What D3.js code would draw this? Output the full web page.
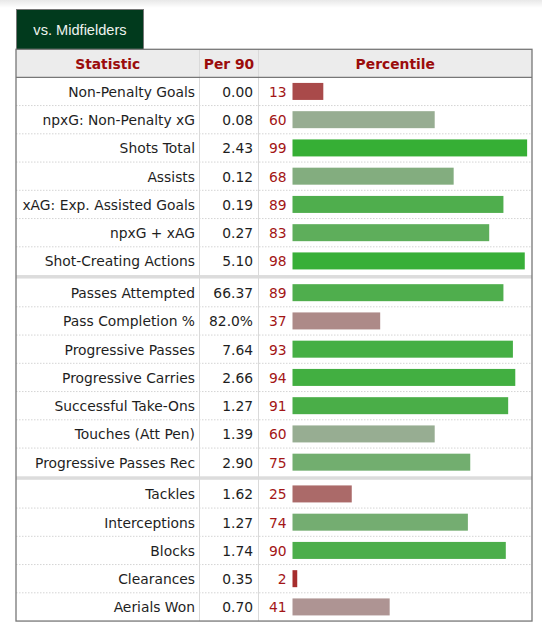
<!DOCTYPE html>
<html>
<head>
<meta charset="utf-8">
<script src="https://cdn.jsdelivr.net/npm/d3@7"></script>
<style>
  body { margin: 0; background: #fff; }
  svg { display: block; }
</style>
</head>
<body>
<div id="chart"></div>
<script>
// ---- data ----
const tabLabel = "vs. Midfielders";
const headers = ["Statistic", "Per 90", "Percentile"];
const statistics = [
  "Non-Penalty Goals", "npxG: Non-Penalty xG", "Shots Total", "Assists",
  "xAG: Exp. Assisted Goals", "npxG + xAG", "Shot-Creating Actions",
  "Passes Attempted", "Pass Completion %", "Progressive Passes",
  "Progressive Carries", "Successful Take-Ons", "Touches (Att Pen)",
  "Progressive Passes Rec",
  "Tackles", "Interceptions", "Blocks", "Clearances", "Aerials Won"
];
const per90 = [
  "0.00", "0.08", "2.43", "0.12", "0.19", "0.27", "5.10",
  "66.37", "82.0%", "7.64", "2.66", "1.27", "1.39", "2.90",
  "1.62", "1.27", "1.74", "0.35", "0.70"
];
const percentiles = [
  13, 60, 99, 68, 89, 83, 98,
  89, 37, 93, 94, 91, 60, 75,
  25, 74, 90, 2, 41
];
const groupSizes = [7, 7, 5];

// ---- layout ----
const W = 542, H = 630;
const left = 16, right = 532;
const col1 = 199.5, col2 = 258.5;
const headTop = 49.3, headBottom = 77.3;
const rowH = 28.25, sepH = 3.5;
const barX = 292.5, barH = 17;
const font = "'DejaVu Sans', Verdana, sans-serif";
const fs = 13.85;

// group index for each row
const groupOf = [];
groupSizes.forEach((n, g) => { for (let k = 0; k < n; k++) groupOf.push(g); });

const rowScale = d3.scaleLinear()
  .domain([0, statistics.length])
  .range([headBottom, headBottom + statistics.length * rowH]);
const rowTop = i => rowScale(i) + groupOf[i] * sepH;
const tableBottom = rowTop(statistics.length - 1) + rowH;

const x = d3.scaleLinear().domain([0, 100]).range([0, 237]);
const color = d3.scaleLinear()
  .domain([0, 50, 100])
  .range(["rgb(166,40,40)", "rgb(176,172,170)", "rgb(51,175,51)"]);

const svg = d3.select("#chart").append("svg")
  .attr("width", W).attr("height", H);

// top shadow
const defs = svg.append("defs");
const grad = defs.append("linearGradient").attr("id", "shade")
  .attr("x1", 0).attr("y1", 0).attr("x2", 0).attr("y2", 1);
grad.append("stop").attr("offset", 0).attr("stop-color", "#000").attr("stop-opacity", 0.09);
grad.append("stop").attr("offset", 1).attr("stop-color", "#000").attr("stop-opacity", 0);
svg.append("rect").attr("x", 0).attr("y", 0).attr("width", W).attr("height", 8)
  .attr("fill", "url(#shade)");

// tab
svg.append("rect")
  .attr("x", 16.5).attr("y", 9.5).attr("width", 127).attr("height", 40)
  .attr("fill", "#013a1d").attr("stroke", "#777").attr("stroke-width", 1);
svg.append("text")
  .attr("x", 80).attr("y", 29.5)
  .attr("text-anchor", "middle").attr("dominant-baseline", "central")
  .attr("font-family", "'Liberation Sans', Arial, sans-serif")
  .attr("font-size", 14.6).attr("fill", "#eef2ee")
  .text(tabLabel);

// header
svg.append("rect")
  .attr("x", left).attr("y", headTop).attr("width", right - left).attr("height", headBottom - headTop)
  .attr("fill", "#ececec");
const headCenters = [(left + col1) / 2, (col1 + col2) / 2, (col2 + right) / 2];
svg.selectAll("text.head").data(headers).join("text")
  .attr("class", "head")
  .attr("x", (d, i) => headCenters[i])
  .attr("y", (headTop + headBottom) / 2 + 1)
  .attr("text-anchor", "middle").attr("dominant-baseline", "central")
  .attr("font-family", font).attr("font-weight", "bold").attr("font-size", fs)
  .attr("fill", "#9b0c0c")
  .text(d => d);

// group separators
const sepY = [];
let acc = 0;
groupSizes.slice(0, -1).forEach(n => { acc += n; sepY.push(rowTop(acc) - sepH); });
svg.selectAll("rect.sep").data(sepY).join("rect")
  .attr("class", "sep")
  .attr("x", left).attr("y", d => d).attr("width", right - left).attr("height", sepH)
  .attr("fill", "#dcdcdc");

// dotted row lines (not at the bottom of a group)
const dotRows = d3.range(statistics.length - 1).filter(i => groupOf[i] === groupOf[i + 1]);
svg.selectAll("line.dot").data(dotRows).join("line")
  .attr("class", "dot")
  .attr("x1", left).attr("x2", right)
  .attr("y1", i => rowTop(i) + rowH).attr("y2", i => rowTop(i) + rowH)
  .attr("stroke", "#d4d4d4").attr("stroke-width", 1).attr("stroke-dasharray", "1.5,1.5");

// column lines
svg.selectAll("line.col").data([col1, col2]).join("line")
  .attr("class", "col")
  .attr("x1", d => d).attr("x2", d => d)
  .attr("y1", headTop).attr("y2", tableBottom)
  .attr("stroke", "#dadada").attr("stroke-width", 1);

// rows
const rows = svg.selectAll("g.row").data(statistics).join("g")
  .attr("class", "row")
  .attr("transform", (d, i) => `translate(0,${rowTop(i) + rowH / 2})`);

rows.append("text")
  .attr("x", col1 - 4.5).attr("y", 0.5)
  .attr("text-anchor", "end").attr("dominant-baseline", "central")
  .attr("font-family", font).attr("font-size", fs).attr("fill", "#1e1e1e")
  .text(d => d);

rows.append("text")
  .attr("x", col2 - 5.5).attr("y", 0.5)
  .attr("text-anchor", "end").attr("dominant-baseline", "central")
  .attr("font-family", font).attr("font-size", fs).attr("fill", "#1e1e1e")
  .text((d, i) => per90[i]);

rows.append("text")
  .attr("x", barX - 6).attr("y", 0.5)
  .attr("text-anchor", "end").attr("dominant-baseline", "central")
  .attr("font-family", font).attr("font-size", fs).attr("fill", "#a31616")
  .text((d, i) => percentiles[i]);

rows.append("rect")
  .attr("x", barX).attr("y", -barH / 2)
  .attr("width", (d, i) => x(percentiles[i]))
  .attr("height", barH)
  .attr("fill", (d, i) => color(percentiles[i]));

// outer border and header line
svg.append("rect")
  .attr("x", left).attr("y", headTop).attr("width", right - left).attr("height", tableBottom - headTop)
  .attr("fill", "none").attr("stroke", "#777").attr("stroke-width", 1.3);
svg.append("line")
  .attr("x1", left).attr("x2", right).attr("y1", headBottom).attr("y2", headBottom)
  .attr("stroke", "#777").attr("stroke-width", 1.3);
</script>
</body>
</html>
